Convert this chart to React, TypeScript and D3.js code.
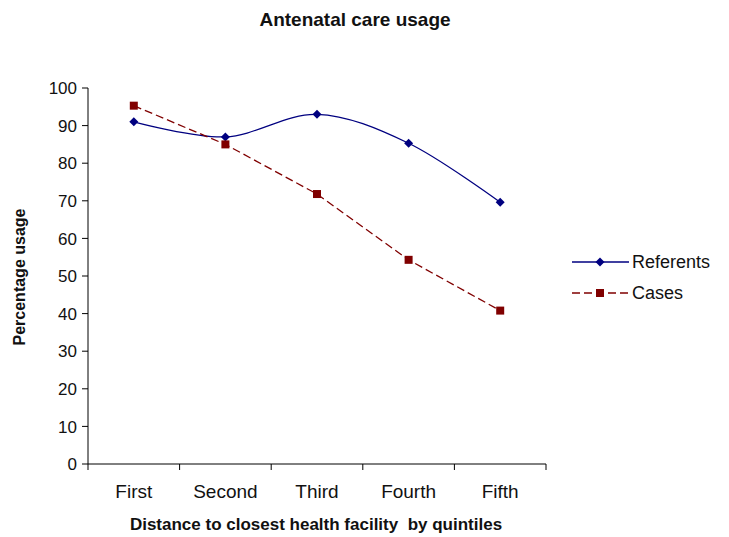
import React from "react";
import * as d3 from "d3";

const categories = ["First", "Second", "Third", "Fourth", "Fifth"];
const referents = [91, 87, 93, 85.3, 69.6];
const cases = [95.3, 85, 71.8, 54.3, 40.8];
const yTicks = [0, 10, 20, 30, 40, 50, 60, 70, 80, 90, 100];

const W = 729;
const H = 537;
const left = 88;
const right = 546;
const top = 88;
const bottom = 464;
const FONT = "'Liberation Sans', Arial, sans-serif";

export default function App() {
  const x = d3.scaleBand<string>().domain(categories).range([left, right]);
  const y = d3.scaleLinear().domain([0, 100]).range([bottom, top]);
  const cx = (c: string) => (x(c) as number) + x.bandwidth() / 2;
  const line = d3
    .line<number>()
    .x((_, i) => cx(categories[i]))
    .y((d) => y(d))
    .curve(d3.curveCatmullRom.alpha(0));
  const caseLine = d3
    .line<number>()
    .x((_, i) => cx(categories[i]))
    .y((d) => y(d));
  const blue = "#000080";
  const red = "#800000";
  const diamond = (px: number, py: number, s = 4.5) =>
    `M${px},${py - s}L${px + s},${py}L${px},${py + s}L${px - s},${py}Z`;
  const xTickPos = [...categories.map((c) => x(c) as number), right];

  return (
    <svg
      width={W}
      height={H}
      style={{ position: "absolute", left: 0, top: 0, background: "#fff" }}
      fontFamily={FONT}
    >
      <text x={355} y={26} textAnchor="middle" fontSize={19} fontWeight="bold" fill="#111">
        Antenatal care usage
      </text>
      {/* axes */}
      <line x1={left} x2={left} y1={top} y2={bottom} stroke="#000" />
      <line x1={left} x2={right} y1={bottom} y2={bottom} stroke="#000" />
      {yTicks.map((t) => (
        <g key={t}>
          <line x1={left - 6} x2={left} y1={y(t)} y2={y(t)} stroke="#000" />
          <text x={left - 11} y={y(t)} dy="0.36em" textAnchor="end" fontSize={17} fill="#111">
            {t}
          </text>
        </g>
      ))}
      {xTickPos.map((p, i) => (
        <line key={i} x1={p} x2={p} y1={bottom} y2={bottom + 6} stroke="#000" />
      ))}
      {categories.map((c) => (
        <text key={c} x={cx(c)} y={498} textAnchor="middle" fontSize={19} fill="#111">
          {c}
        </text>
      ))}
      <text
        x={316}
        y={530}
        textAnchor="middle"
        fontSize={17}
        fontWeight="bold"
        fill="#111"
        style={{ whiteSpace: "pre" }}
      >
        Distance to closest health facility  by quintiles
      </text>
      <text
        transform={`translate(25,${277}) rotate(-90)`}
        textAnchor="middle"
        fontSize={16}
        fontWeight="bold"
        fill="#111"
      >
        Percentage usage
      </text>
      {/* series */}
      <path d={line(referents) ?? ""} fill="none" stroke={blue} strokeWidth={1.3} />
      <path
        d={caseLine(cases) ?? ""}
        fill="none"
        stroke={red}
        strokeWidth={1.3}
        strokeDasharray="8,4"
      />
      {referents.map((v, i) => (
        <path key={"r" + i} d={diamond(cx(categories[i]), y(v))} fill={blue} />
      ))}
      {cases.map((v, i) => (
        <rect
          key={"c" + i}
          x={cx(categories[i]) - 4}
          y={y(v) - 4}
          width={8}
          height={8}
          fill={red}
        />
      ))}
      {/* legend */}
      <line x1={572} x2={629} y1={262} y2={262} stroke={blue} strokeWidth={1.3} />
      <path d={diamond(600, 262)} fill={blue} />
      <text x={632} y={262} dy="0.36em" fontSize={18} fill="#111">
        Referents
      </text>
      <line x1={572} x2={629} y1={293} y2={293} stroke={red} strokeWidth={1.3} strokeDasharray="8,4" />
      <rect x={596} y={289} width={8} height={8} fill={red} />
      <text x={632} y={293} dy="0.36em" fontSize={18} fill="#111">
        Cases
      </text>
    </svg>
  );
}
